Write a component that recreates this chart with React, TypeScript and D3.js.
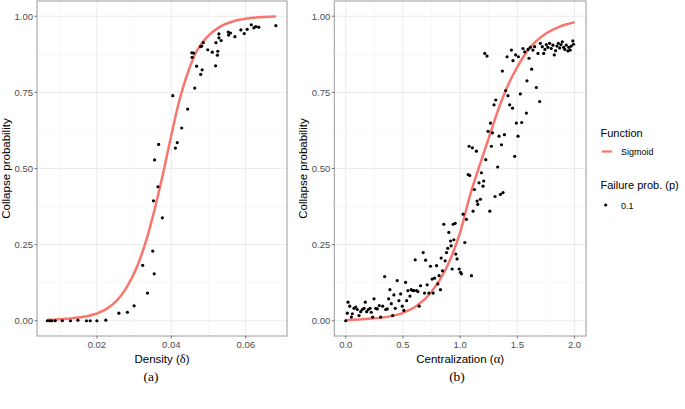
import React from "react";
import * as d3 from "d3";

// ---------- Data (a) Density ----------
const densityX = [0.0067,0.0073,0.0079,0.0088,0.0107,0.0129,0.0149,0.0172,0.0182,0.0200,0.0224,0.0259,0.0282,0.0300,0.0323,0.0336,0.0350,0.0354,0.0352,0.0355,0.0364,0.0366,0.0376,0.0404,0.0411,0.0416,0.0428,0.0444,0.0455,0.0456,0.0460,0.0463,0.0468,0.0479,0.0483,0.0479,0.0482,0.0486,0.0498,0.0510,0.0519,0.0520,0.0524,0.0525,0.0528,0.0528,0.0534,0.0553,0.0554,0.0559,0.0571,0.0587,0.0596,0.0604,0.0615,0.0622,0.0627,0.0635,0.0681];
const densityY = [0,0,0,0,0,0,0.002,0,0,0,0.002,0.025,0.028,0.049,0.182,0.091,0.229,0.154,0.394,0.528,0.44,0.579,0.338,0.739,0.567,0.585,0.633,0.695,0.88,0.865,0.879,0.764,0.836,0.809,0.824,0.90,0.902,0.913,0.89,0.882,0.837,0.913,0.872,0.885,0.942,0.929,0.92,0.948,0.938,0.945,0.933,0.955,0.943,0.957,0.972,0.962,0.966,0.964,0.969];
const densityCurveX = [0.0067,0.012,0.0164,0.020,0.0227,0.0254,0.028,0.0307,0.0334,0.0356,0.0379,0.0401,0.0423,0.0446,0.0468,0.0495,0.053,0.0566,0.062,0.0681];
const densityCurveY = [0.003,0.007,0.013,0.024,0.04,0.067,0.11,0.175,0.27,0.37,0.49,0.615,0.73,0.82,0.885,0.93,0.965,0.983,0.995,0.999];

// ---------- Data (b) Centralization ----------
const centralX = [0,0.014,0.02,0.035,0.049,0.058,0.072,0.087,0.101,0.116,0.131,0.145,0.16,0.171,0.183,0.197,0.212,0.223,0.235,0.247,0.262,0.276,0.293,0.305,0.323,0.34,0.349,0.363,0.375,0.386,0.398,0.41,0.421,0.433,0.45,0.465,0.48,0.494,0.508,0.523,0.532,0.543,0.561,0.572,0.584,0.596,0.607,0.619,0.631,0.642,0.654,0.677,0.689,0.698,0.712,0.727,0.741,0.755,0.764,0.776,0.794,0.805,0.816,0.828,0.834,0.846,0.857,0.869,0.881,0.892,0.901,0.916,0.921,0.93,0.939,0.945,0.956,0.962,0.973,0.991,1.003,
1.011,1.026,1.041,1.055,1.07,1.084,1.099,1.078,1.107,1.142,1.113,1.125,1.148,1.154,1.165,1.177,1.186,1.2,1.206,1.224,1.215,1.235,1.259,1.244,1.273,1.282,1.265,1.296,1.311,1.305,1.328,1.34,1.352,1.361,1.369,1.375,1.387,1.398,1.41,1.418,1.433,1.448,1.457,1.462,1.477,1.491,1.485,1.506,1.509,1.526,1.538,1.549,1.564,1.579,1.584,1.593,1.602,1.614,1.625,1.636,1.651,1.666,1.68,1.695,1.701,1.718,1.73,1.741,1.753,1.767,1.782,1.796,1.811,1.823,1.834,1.846,1.858,1.869,1.881,1.893,1.904,1.915,1.928,1.942,1.95,1.962,1.971,1.985,1.991];
const centralY = [0,0.025,0.061,0.048,0.012,0.023,0.041,0.045,0.037,0.017,0.03,0.037,0.041,0.061,0.03,0.037,0.041,0.028,0.012,0.072,0.041,0.039,0.05,0.012,0.048,0.145,0.037,0.039,0.072,0.102,0.056,0.017,0.085,0.041,0.132,0.066,0.088,0.048,0.034,0.126,0.066,0.099,0.081,0.102,0.099,0.099,0.2,0.099,0.096,0.048,0.115,0.224,0.091,0.199,0.118,0.091,0.179,0.137,0.091,0.14,0.181,0.121,0.148,0.102,0.206,0.164,0.317,0.197,0.224,0.238,0.29,0.262,0.246,0.17,0.317,0.266,0.32,0.219,0.203,0.17,0.159,
0.154,0.35,0.257,0.333,0.48,0.477,0.148,0.573,0.568,0.557,0.36,0.431,0.393,0.382,0.453,0.399,0.486,0.442,0.459,0.529,0.878,0.869,0.36,0.622,0.573,0.617,0.649,0.709,0.725,0.408,0.505,0.606,0.415,0.578,0.82,0.421,0.611,0.756,0.867,0.739,0.709,0.889,0.698,0.854,0.54,0.649,0.873,0.606,0.867,0.745,0.651,0.894,0.883,0.682,0.788,0.891,0.862,0.898,0.826,0.889,0.9,0.766,0.878,0.72,0.911,0.9,0.878,0.891,0.907,0.898,0.911,0.894,0.905,0.873,0.887,0.902,0.911,0.896,0.907,0.916,0.898,0.891,0.905,0.886,0.898,0.889,0.902,0.919,0.908];
const centralCurveX = [0,0.2,0.35,0.5,0.625,0.75,0.875,1.0,1.085,1.17,1.25,1.33,1.42,1.5,1.6,1.75,1.87,2.0];
const centralCurveY = [0.002,0.007,0.012,0.026,0.05,0.095,0.17,0.29,0.41,0.51,0.6,0.69,0.775,0.834,0.892,0.943,0.966,0.98];

const yTicks = [0, 0.25, 0.5, 0.75, 1.0];
const yMinor = [0.125, 0.375, 0.625, 0.875];
const densityTicks = [0.02, 0.04, 0.06];
const densityMinor = [0.01, 0.03, 0.05, 0.07];
const centralTicks = [0, 0.5, 1.0, 1.5, 2.0];
const centralMinor = [0.25, 0.75, 1.25, 1.75];

const SANS = "'Liberation Sans', Arial, Helvetica, sans-serif";
const SERIF = "'Liberation Serif', 'Times New Roman', serif";
const RED = "#F8766D";

type PanelProps = {
  left: number; width: number; xDomain: [number, number];
  xTicks: number[]; xMinor: number[]; xFmt: (v: number) => string;
  px: number[]; py: number[]; cx: number[]; cy: number[]; xTitle: string; greek: string;
};

const TOP = 1, BOTTOM = 336;

function Panel(p: PanelProps) {
  const x = d3.scaleLinear().domain(p.xDomain).range([p.left, p.left + p.width]);
  const y = d3.scaleLinear().domain([-0.05, 1.05]).range([BOTTOM, TOP]);
  const yFmt = d3.format(".2f");
  const line = d3.line<number>().x((_, i) => x(p.cx[i])).y((_, i) => y(p.cy[i])).curve(d3.curveMonotoneX);
  const right = p.left + p.width;
  return (
    <g>
      <rect x={p.left} y={TOP} width={p.width} height={BOTTOM - TOP} fill="white" />
      {yMinor.map((v) => (
        <line key={"ym" + v} x1={p.left} x2={right} y1={y(v)} y2={y(v)} stroke="#F3F3F3" strokeWidth={0.6} />
      ))}
      {p.xMinor.map((v) => (
        <line key={"xm" + v} x1={x(v)} x2={x(v)} y1={TOP} y2={BOTTOM} stroke="#F3F3F3" strokeWidth={0.6} />
      ))}
      {yTicks.map((v) => (
        <line key={"yg" + v} x1={p.left} x2={right} y1={y(v)} y2={y(v)} stroke="#EBEBEB" strokeWidth={1} />
      ))}
      {p.xTicks.map((v) => (
        <line key={"xg" + v} x1={x(v)} x2={x(v)} y1={TOP} y2={BOTTOM} stroke="#EBEBEB" strokeWidth={1} />
      ))}
      <path d={line(p.cx) || ""} fill="none" stroke={RED} strokeWidth={2.5} />
      {p.px.map((v, i) => (
        <circle key={"p" + i} cx={x(v)} cy={y(p.py[i])} r={1.6} fill="black" />
      ))}
      <rect x={p.left} y={TOP} width={p.width} height={BOTTOM - TOP} fill="none" stroke="#9A9A9A" strokeWidth={1} />
      {yTicks.map((v) => (
        <g key={"yt" + v}>
          <line x1={p.left - 2.5} x2={p.left} y1={y(v)} y2={y(v)} stroke="#555" strokeWidth={0.8} />
          <text x={p.left - 4} y={y(v) + 3.3} textAnchor="end" fontSize={9.5} fill="#4D4D4D" fontFamily={SANS}>{yFmt(v)}</text>
        </g>
      ))}
      {p.xTicks.map((v) => (
        <g key={"xt" + v}>
          <line x1={x(v)} x2={x(v)} y1={BOTTOM} y2={BOTTOM + 2.5} stroke="#555" strokeWidth={0.8} />
          <text x={x(v)} y={347.8} textAnchor="middle" fontSize={9.5} fill="#4D4D4D" fontFamily={SANS}>{p.xFmt(v)}</text>
        </g>
      ))}
      <text x={p.left + p.width / 2} y={362.5} textAnchor="middle" fontSize={11.5} fill="black" fontFamily={SANS}>
        {p.xTitle} (<tspan fontFamily={SERIF} fontSize={12.5}>{p.greek}</tspan>)
      </text>
      <text transform={`translate(${p.left - 27},${(TOP + BOTTOM) / 2}) rotate(-90)`} textAnchor="middle" fontSize={11.5} fill="black" fontFamily={SANS}>Collapse probability</text>
    </g>
  );
}

export default function App() {
  return (
    <svg width={685} height={409} style={{ position: "absolute", left: 0, top: 0, background: "white" }}>
      <rect x={0} y={0} width={685} height={409} fill="white" />
      <Panel left={37} width={250} xDomain={[0.0039, 0.0711]} xTicks={densityTicks} xMinor={densityMinor}
        xFmt={d3.format(".2f")} px={densityX} py={densityY} cx={densityCurveX} cy={densityCurveY} xTitle="Density" greek="δ" />
      <Panel left={334.3} width={251.7} xDomain={[-0.1, 2.1]} xTicks={centralTicks} xMinor={centralMinor}
        xFmt={d3.format(".1f")} px={centralX} py={centralY} cx={centralCurveX} cy={centralCurveY} xTitle="Centralization" greek="α" />
      {/* Legend */}
      <g fontFamily={SANS}>
        <text x={600.5} y={137} fontSize={11} fill="black">Function</text>
        <line x1={602} x2={612} y1={151.5} y2={151.5} stroke={RED} strokeWidth={2.2} />
        <text x={621} y={155} fontSize={9} fill="black">Sigmoid</text>
        <text x={600.5} y={189} fontSize={11} fill="black">Failure prob. (p)</text>
        <circle cx={605.7} cy={205} r={1.6} fill="black" />
        <text x={621} y={208.5} fontSize={9} fill="black">0.1</text>
      </g>
      <text x={151} y={381} textAnchor="middle" fontSize={13.5} fontFamily={SERIF} fill="black">(a)</text>
      <text x={457} y={381} textAnchor="middle" fontSize={13.5} fontFamily={SERIF} fill="black">(b)</text>
    </svg>
  );
}
